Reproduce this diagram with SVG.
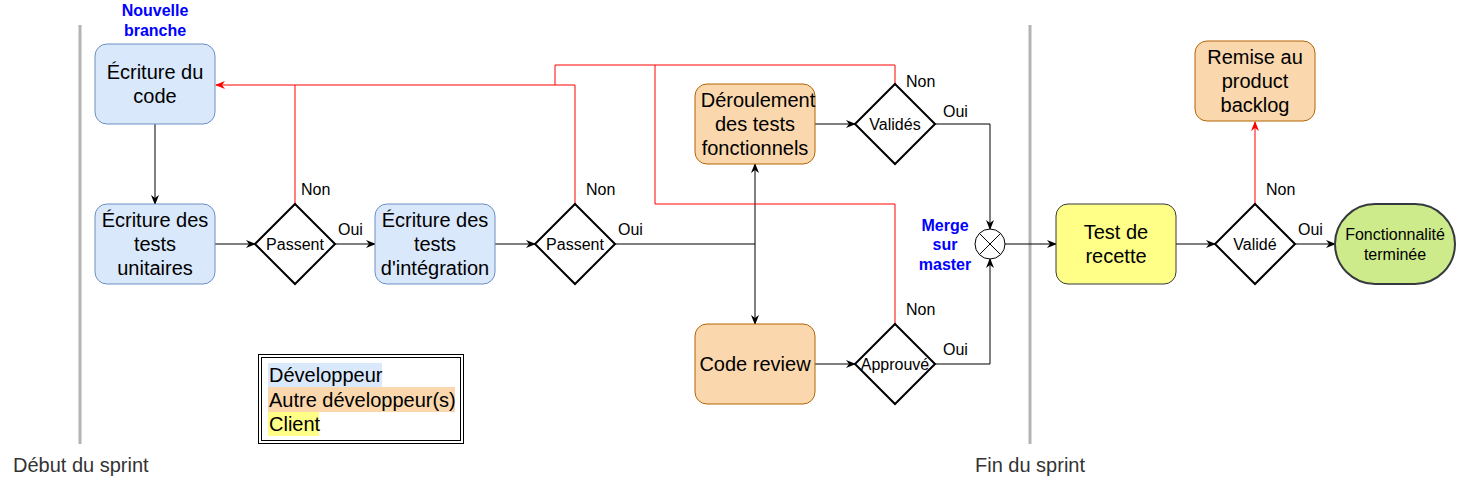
<svg xmlns="http://www.w3.org/2000/svg" width="1457" height="485" viewBox="0 0 1457 485">
<style>
text{font-family:"Liberation Sans",Arial,Helvetica,sans-serif;fill:#000}
.t18{font-size:20px;text-anchor:middle}
.t14{font-size:16px;text-anchor:middle}
.lbl{font-size:16px}
.blue{font-size:16px;font-weight:bold;fill:#0000ff;text-anchor:middle}
.dev{fill:#dae8fc;stroke:#6c8ebf;stroke-width:1}
.oth{fill:#fad7ac;stroke:#b46504;stroke-width:1}
.cli{fill:#ffff88;stroke:#36393d;stroke-width:1}
.dia{fill:#fff;stroke:#000;stroke-width:2}
.blk{fill:none;stroke:#000;stroke-width:1}
.red{fill:none;stroke:#ff0000;stroke-width:1}
.sep{stroke:#b3b3b3;stroke-width:3}
.grey{font-size:20px;fill:#333333}
.leg{font-size:20px}
</style>
<defs>
<marker id="ab" viewBox="0 0 10 10" refX="9" refY="5" markerWidth="10" markerHeight="10" markerUnits="userSpaceOnUse" orient="auto">
<path d="M0,1 L10,5 L0,9 L3,5 Z" fill="#000"/>
</marker>
<marker id="ar" viewBox="0 0 10 10" refX="9" refY="5" markerWidth="10" markerHeight="10" markerUnits="userSpaceOnUse" orient="auto">
<path d="M0,1 L10,5 L0,9 L3,5 Z" fill="#ff0000"/>
</marker>
</defs>
<g id="separators">
<line class="sep" x1="80" y1="25" x2="80" y2="444"/>
<line class="sep" x1="1030" y1="25" x2="1030" y2="444"/>
<text class="grey" x="13" y="472">Début du sprint</text>
<text class="grey" x="1030" y="472" text-anchor="middle">Fin du sprint</text>
</g>
<g id="connectors">
<line class="blk" x1="155" y1="124" x2="155" y2="204" marker-end="url(#ab)"/>
<line class="blk" x1="215" y1="244" x2="255" y2="244" marker-end="url(#ab)"/>
<line class="blk" x1="335" y1="244" x2="375" y2="244" marker-end="url(#ab)"/>
<line class="blk" x1="495" y1="244" x2="535" y2="244" marker-end="url(#ab)"/>
<polyline class="blk" points="615,244 755,244 755,164" marker-end="url(#ab)"/>
<polyline class="blk" points="755,244 755,324" marker-end="url(#ab)"/>
<line class="blk" x1="815" y1="124" x2="855" y2="124" marker-end="url(#ab)"/>
<line class="blk" x1="815" y1="364" x2="855" y2="364" marker-end="url(#ab)"/>
<polyline class="blk" points="935,124 990,124 990,229" marker-end="url(#ab)"/>
<polyline class="blk" points="935,364 990,364 990,259" marker-end="url(#ab)"/>
<line class="blk" x1="1005" y1="244" x2="1056" y2="244" marker-end="url(#ab)"/>
<line class="blk" x1="1176" y1="244" x2="1215" y2="244" marker-end="url(#ab)"/>
<line class="blk" x1="1295" y1="244" x2="1335" y2="244" marker-end="url(#ab)"/>
<polyline class="red" points="295,204 295,85 216,85" marker-end="url(#ar)"/>
<polyline class="red" points="575,204 575,85 295,85"/>
<polyline class="red" points="895,84 895,65 555,65 555,85"/>
<polyline class="red" points="895,324 895,204 655,204 655,65"/>
<line class="red" x1="1255" y1="204" x2="1255" y2="122" marker-end="url(#ar)"/>
<text class="lbl" x="301" y="195">Non</text>
<text class="lbl" x="338" y="235">Oui</text>
<text class="lbl" x="586" y="195">Non</text>
<text class="lbl" x="618" y="235">Oui</text>
<text class="lbl" x="906" y="87">Non</text>
<text class="lbl" x="943" y="117">Oui</text>
<text class="lbl" x="906" y="315">Non</text>
<text class="lbl" x="943" y="355">Oui</text>
<text class="lbl" x="1266" y="195">Non</text>
<text class="lbl" x="1298" y="235">Oui</text>
</g>
<g id="nouvelle-branche">
<text class="blue" x="155" y="16">Nouvelle</text>
<text class="blue" x="155" y="36">branche</text>
</g>
<g id="ecriture-code">
<rect class="dev" x="95" y="44" width="120" height="80" rx="12"/>
<text class="t18" x="155" y="79">Écriture du</text>
<text class="t18" x="155" y="103">code</text>
</g>
<g id="tests-unitaires">
<rect class="dev" x="95" y="204" width="120" height="80" rx="12"/>
<text class="t18" x="155" y="227">Écriture des</text>
<text class="t18" x="155" y="251">tests</text>
<text class="t18" x="155" y="275">unitaires</text>
</g>
<g id="passent1">
<path class="dia" d="M295,204 L335,244 L295,284 L255,244 Z"/>
<text class="t14" x="295" y="250">Passent</text>
</g>
<g id="tests-integration">
<rect class="dev" x="375" y="204" width="120" height="80" rx="12"/>
<text class="t18" x="435" y="227">Écriture des</text>
<text class="t18" x="435" y="251">tests</text>
<text class="t18" x="435" y="275">d'intégration</text>
</g>
<g id="passent2">
<path class="dia" d="M575,204 L615,244 L575,284 L535,244 Z"/>
<text class="t14" x="575" y="250">Passent</text>
</g>
<g id="tests-fonctionnels">
<rect class="oth" x="695" y="84" width="120" height="80" rx="12"/>
<text class="t18" x="758" y="107">Déroulement</text>
<text class="t18" x="755" y="131">des tests</text>
<text class="t18" x="755" y="155">fonctionnels</text>
</g>
<g id="valides">
<path class="dia" d="M895,84 L935,124 L895,164 L855,124 Z"/>
<text class="t14" x="895" y="130">Validés</text>
</g>
<g id="code-review">
<rect class="oth" x="695" y="324" width="120" height="80" rx="12"/>
<text class="t18" x="755" y="371">Code review</text>
</g>
<g id="approuve">
<path class="dia" d="M895,324 L935,364 L895,404 L855,364 Z"/>
<text class="t14" x="895" y="370">Approuvé</text>
</g>
<g id="merge">
<circle cx="990" cy="244" r="15" fill="#fff" stroke="#000" stroke-width="1"/>
<line class="blk" x1="979.4" y1="233.4" x2="1000.6" y2="254.6"/>
<line class="blk" x1="1000.6" y1="233.4" x2="979.4" y2="254.6"/>
<text class="blue" x="945" y="231">Merge</text>
<text class="blue" x="945" y="250">sur</text>
<text class="blue" x="945" y="270">master</text>
</g>
<g id="test-recette">
<rect class="cli" x="1056" y="204" width="120" height="80" rx="12"/>
<text class="t18" x="1116" y="239">Test de</text>
<text class="t18" x="1116" y="263">recette</text>
</g>
<g id="valide">
<path class="dia" d="M1255,204 L1295,244 L1255,284 L1215,244 Z"/>
<text class="t14" x="1255" y="250">Validé</text>
</g>
<g id="fonctionnalite-terminee">
<rect x="1335" y="204" width="120" height="80" rx="40" fill="#cdeb8b" stroke="#36393d" stroke-width="2"/>
<text class="t14" x="1395" y="240">Fonctionnalité</text>
<text class="t14" x="1395" y="260">terminée</text>
</g>
<g id="remise-backlog">
<rect class="oth" x="1195" y="41" width="120" height="80" rx="12"/>
<text class="t18" x="1255" y="64">Remise au</text>
<text class="t18" x="1255" y="88">product</text>
<text class="t18" x="1255" y="112">backlog</text>
</g>
<g id="legende">
<rect x="258.5" y="354.5" width="205" height="89" fill="#fff" stroke="#000" stroke-width="1"/>
<rect x="261.5" y="357.5" width="199" height="83" fill="none" stroke="#000" stroke-width="1"/>
<rect x="268" y="363" width="114" height="24" fill="#dae8fc"/>
<rect x="268" y="387" width="187" height="25" fill="#fad7ac"/>
<rect x="268" y="412" width="51" height="24" fill="#ffff88"/>
<text class="leg" x="269" y="382">Développeur</text>
<text class="leg" x="269" y="407">Autre développeur(s)</text>
<text class="leg" x="269" y="431">Client</text>
</g>
</svg>
